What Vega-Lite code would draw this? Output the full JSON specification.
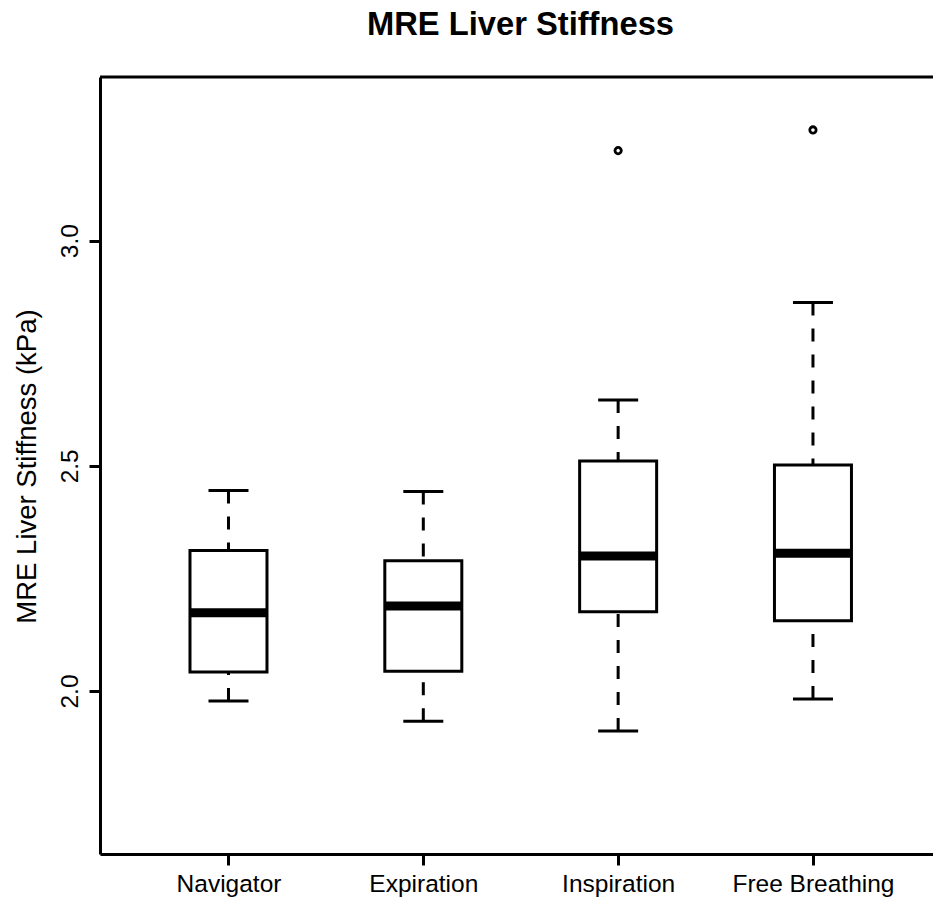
{
  "$schema": "https://vega.github.io/schema/vega-lite/v6.json",
  "autosize": {"type": "none"},
  "padding": {"left": 100, "top": 77, "right": 0, "bottom": 51},
  "width": 833,
  "height": 777,
  "background": "white",
  "title": {"text": "MRE Liver Stiffness", "font": "Liberation Sans", "fontSize": 32.7, "fontWeight": "bold", "color": "black", "anchor": "middle", "baseline": "alphabetic", "offset": 8, "dx": 4},
  "config": {
    "font": "Liberation Sans",
    "view": {"stroke": null},
    "axis": {"grid": false, "domainColor": "black", "domainWidth": 3, "tickColor": "black", "tickWidth": 3, "tickSize": 11, "labelColor": "black", "labelFont": "Liberation Sans", "labelFontSize": 24.5, "titleColor": "black", "titleFont": "Liberation Sans"},
    "axisX": {"labelPadding": 7, "labelAngle": 0},
    "axisY": {"labelAngle": -90, "labelAlign": "center", "labelBaseline": "alphabetic", "labelPadding": 12, "titleX": -65, "titleY": 389, "titleAngle": -90, "titleAlign": "center", "titleBaseline": "alphabetic", "titleFontSize": 27.5, "titleFontWeight": "normal"}
  },
  "datasets": {
    "stats": [
      {"group": "Navigator", "min": 1.978, "q1": 2.042, "median": 2.174, "q3": 2.312, "max": 2.445},
      {"group": "Expiration", "min": 1.933, "q1": 2.044, "median": 2.189, "q3": 2.289, "max": 2.443},
      {"group": "Inspiration", "min": 1.911, "q1": 2.176, "median": 2.300, "q3": 2.511, "max": 2.646},
      {"group": "Free Breathing", "min": 1.982, "q1": 2.156, "median": 2.306, "q3": 2.502, "max": 2.863}
    ],
    "outliers": [
      {"group": "Inspiration", "value": 3.200},
      {"group": "Free Breathing", "value": 3.246}
    ]
  },
  "layer": [
    {
      "data": {"name": "stats"},
      "mark": {"type": "rule", "color": "black", "strokeWidth": 3, "strokeDash": [13, 13]},
      "encoding": {
        "x": {"field": "group", "type": "nominal", "title": null, "scale": {"type": "point", "domain": ["Navigator", "Expiration", "Inspiration", "Free Breathing"], "padding": 0.6378, "align": 0.517}},
        "y": {"field": "max", "type": "quantitative", "title": "MRE Liver Stiffness (kPa)", "scale": {"domain": [1.638, 3.3635], "nice": false, "zero": false}, "axis": {"values": [2, 2.5, 3], "format": ".1f"}},
        "y2": {"field": "q3"}
      }
    },
    {
      "data": {"name": "stats"},
      "mark": {"type": "rule", "color": "black", "strokeWidth": 3, "strokeDash": [13, 13]},
      "encoding": {
        "x": {"field": "group", "type": "nominal", "title": null},
        "y": {"field": "min", "type": "quantitative", "title": "MRE Liver Stiffness (kPa)", "axis": {"values": [2, 2.5, 3], "format": ".1f"}},
        "y2": {"field": "q1"}
      }
    },
    {
      "data": {"name": "stats"},
      "mark": {"type": "bar", "width": 77, "fill": "white", "stroke": "black", "strokeWidth": 3},
      "encoding": {
        "x": {"field": "group", "type": "nominal", "title": null},
        "y": {"field": "q1", "type": "quantitative", "title": "MRE Liver Stiffness (kPa)", "scale": {"domain": [1.638, 3.3635], "nice": false, "zero": false}, "axis": {"values": [2, 2.5, 3], "format": ".1f"}},
        "y2": {"field": "q3"}
      }
    },
    {
      "data": {"name": "stats"},
      "mark": {"type": "tick", "color": "black", "size": 77, "thickness": 9, "opacity": 1},
      "encoding": {
        "x": {"field": "group", "type": "nominal", "title": null},
        "y": {"field": "median", "type": "quantitative", "title": "MRE Liver Stiffness (kPa)", "axis": {"values": [2, 2.5, 3], "format": ".1f"}}
      }
    },
    {
      "data": {"name": "stats"},
      "mark": {"type": "tick", "color": "black", "size": 40, "thickness": 3, "opacity": 1},
      "encoding": {
        "x": {"field": "group", "type": "nominal", "title": null},
        "y": {"field": "max", "type": "quantitative", "title": "MRE Liver Stiffness (kPa)", "axis": {"values": [2, 2.5, 3], "format": ".1f"}}
      }
    },
    {
      "data": {"name": "stats"},
      "mark": {"type": "tick", "color": "black", "size": 40, "thickness": 3, "opacity": 1},
      "encoding": {
        "x": {"field": "group", "type": "nominal", "title": null},
        "y": {"field": "min", "type": "quantitative", "title": "MRE Liver Stiffness (kPa)", "axis": {"values": [2, 2.5, 3], "format": ".1f"}}
      }
    },
    {
      "data": {"name": "outliers"},
      "mark": {"type": "point", "shape": "circle", "filled": false, "stroke": "black", "strokeWidth": 2.8, "size": 40, "opacity": 1},
      "encoding": {
        "x": {"field": "group", "type": "nominal", "title": null},
        "y": {"field": "value", "type": "quantitative", "title": "MRE Liver Stiffness (kPa)", "axis": {"values": [2, 2.5, 3], "format": ".1f"}}
      }
    },
    {
      "data": {"values": [{}]},
      "mark": {"type": "rule", "color": "black", "strokeWidth": 3},
      "encoding": {
        "y": {"datum": 3.3635, "type": "quantitative", "title": "MRE Liver Stiffness (kPa)", "axis": {"values": [2, 2.5, 3], "format": ".1f"}}
      }
    }
  ]
}
